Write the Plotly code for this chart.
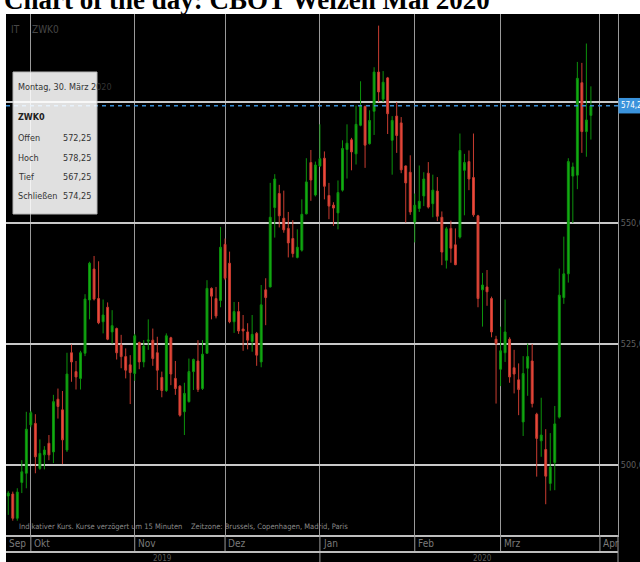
import plotly.graph_objects as go
import pandas as pd

# ---------------- data ----------------
title_text = "Chart of the day: CBOT Weizen Mai 2020"
symbol = "ZWK0"
exchange = "IT"
holidays = ["2019-11-28", "2019-12-25", "2020-01-01", "2020-01-20", "2020-02-17"]
month_names = {9: "Sep", 10: "Okt", 11: "Nov", 12: "Dez", 1: "Jan", 2: "Feb", 3: "Mrz", 4: "Apr"}

open_ = [493.6, 494.0, 489.0, 496.4, 498.3, 508.3, 508.6, 499.3, 502.1, 504.5,
         502.7, 513.6, 511.4, 503.1, 523.2, 519.3, 517.9, 523.1, 534.1, 540.5,
         534.4, 529.6, 532.6, 527.5, 528.2, 524.8, 522.4, 520.7, 518.9, 525.3,
         521.3, 525.6, 525.8, 523.2, 518.1, 515.4, 526.3, 517.9, 516.3, 511.0,
         513.1, 519.3, 521.5, 515.8, 523.1, 536.5, 534.4, 534.0, 545.6, 541.7,
         529.6, 531.7, 528.1, 527.5, 525.5, 527.2, 521.3, 536.2, 536.8, 553.2,
         556.1, 551.0, 548.9, 546.8, 542.9, 544.4, 551.9, 562.5, 555.8, 561.8,
         563.4, 555.7, 553.7, 552.1, 556.8, 565.2, 567.2, 564.3, 570.2, 574.1,
         566.4, 573.1, 581.2, 575.6, 580.0, 567.1, 572.1, 570.7, 561.8, 560.5,
         550.2, 553.0, 555.6, 560.3, 554.0, 556.6, 551.2, 542.3, 548.9, 545.5,
         547.1, 560.9, 562.7, 559.4, 551.5, 536.2, 536.8, 534.4, 526.0, 519.8,
         523.2, 526.0, 520.1, 517.6, 508.9, 520.0, 521.5, 510.5, 505.0, 503.2,
         496.2, 500.5, 509.9, 534.6, 539.5, 559.7, 559.9, 579.0, 568.9, 572.25]
high = [494.6, 494.5, 495.2, 501.0, 511.0, 511.2, 510.5, 505.3, 503.9, 506.2,
        514.5, 515.8, 515.3, 523.2, 524.9, 521.5, 523.6, 535.3, 542.0, 543.2,
        542.1, 534.2, 533.6, 532.0, 528.4, 526.9, 524.1, 522.7, 527.1, 525.5,
        525.8, 530.1, 528.2, 526.5, 519.3, 527.2, 526.5, 521.5, 516.5, 517.0,
        522.0, 522.0, 525.8, 525.8, 538.2, 536.7, 536.8, 549.2, 546.8, 544.1,
        533.7, 533.7, 531.0, 529.3, 531.0, 527.5, 537.2, 538.6, 558.3, 560.1,
        557.9, 556.7, 552.3, 550.6, 548.7, 554.9, 563.4, 565.1, 562.7, 570.4,
        564.8, 558.3, 554.3, 558.8, 567.1, 570.4, 567.6, 574.3, 579.3, 574.3,
        573.3, 582.2, 590.8, 581.4, 580.2, 572.1, 575.0, 571.9, 561.9, 564.0,
        556.1, 561.9, 560.5, 562.6, 560.0, 559.5, 552.4, 549.2, 550.5, 548.9,
        568.5, 564.3, 565.0, 568.5, 551.7, 539.7, 540.3, 534.8, 526.7, 528.6,
        534.2, 526.4, 523.8, 521.0, 522.5, 525.1, 525.0, 510.8, 513.9, 507.4,
        506.6, 512.2, 540.6, 547.2, 563.4, 562.5, 583.3, 583.1, 587.1, 578.25]
low = [489.7, 488.5, 488.5, 494.2, 495.2, 507.8, 498.3, 499.0, 499.1, 501.0,
       500.4, 509.6, 500.2, 502.7, 517.2, 515.6, 515.6, 522.5, 530.1, 534.0,
       529.1, 527.2, 525.8, 525.1, 521.8, 520.0, 517.9, 512.6, 517.4, 519.8,
       520.2, 523.8, 520.5, 515.5, 514.0, 515.1, 516.5, 514.5, 510.0, 506.2,
       512.9, 515.5, 515.1, 515.5, 523.0, 530.1, 530.3, 532.6, 538.2, 529.3,
       527.3, 527.1, 523.6, 523.9, 523.4, 520.5, 520.2, 528.9, 536.7, 547.0,
       549.1, 548.0, 542.9, 542.9, 542.7, 544.1, 551.8, 554.6, 555.5, 561.6,
       554.9, 550.8, 549.4, 548.7, 556.5, 559.2, 560.9, 562.1, 570.0, 561.4,
       566.2, 568.2, 575.0, 575.0, 568.4, 560.0, 564.5, 560.3, 550.1, 551.7,
       546.0, 552.3, 553.5, 553.0, 551.2, 550.4, 541.3, 540.6, 541.8, 541.3,
       546.8, 551.6, 556.8, 551.3, 532.6, 528.6, 532.9, 526.4, 512.7, 516.3,
       521.3, 517.0, 514.8, 510.3, 506.0, 514.3, 511.9, 497.6, 501.7, 491.9,
       494.7, 494.8, 509.6, 533.3, 537.7, 550.0, 557.0, 564.5, 563.7, 567.25]
close = [494.2, 489.0, 494.4, 498.6, 507.4, 510.8, 501.7, 502.4, 503.1, 502.1,
         513.1, 512.1, 505.2, 518.8, 521.3, 518.2, 523.2, 534.3, 541.7, 534.3,
         529.4, 531.0, 526.0, 528.8, 523.2, 522.4, 519.6, 519.1, 526.7, 521.3,
         524.6, 525.8, 522.0, 519.6, 515.4, 526.7, 518.8, 515.8, 510.3, 514.8,
         519.3, 521.8, 515.6, 522.9, 536.5, 534.9, 530.8, 545.0, 538.6, 529.6,
         531.7, 527.7, 527.7, 525.8, 527.0, 522.7, 533.1, 534.6, 551.2, 559.1,
         551.5, 548.6, 545.9, 543.7, 545.0, 551.8, 558.5, 558.9, 562.0, 563.3,
         557.6, 553.5, 553.1, 556.3, 565.4, 566.5, 564.7, 570.4, 574.2, 566.1,
         571.2, 581.2, 577.1, 579.1, 572.6, 571.2, 568.1, 561.0, 558.3, 552.3,
         553.7, 554.5, 559.1, 553.3, 556.8, 551.4, 544.0, 548.8, 544.8, 541.4,
         565.0, 562.5, 559.1, 551.7, 534.4, 537.2, 535.8, 527.5, 525.1, 523.6,
         527.5, 518.2, 518.8, 515.6, 518.9, 522.4, 512.7, 505.5, 506.2, 497.7,
         499.6, 508.5, 535.1, 539.5, 562.7, 561.6, 579.9, 568.9, 571.3, 574.25]

price_ticks = [500, 525, 550, 575]
price_labels = ["500,00", "525,00", "550,00", ""]
last_label = "574,25"
info_date = "Montag, 30. März 2020"
info_rows = ["Offen", "Hoch", "Tief", "Schließen"]
info_vals = ["572,25", "578,25", "567,25", "574,25"]
footer = "Indikativer Kurs. Kurse verzögert um 15 Minuten    Zeitzone: Brussels, Copenhagen, Madrid, Paris"

# ---------------- axis dates ----------------
all_days = [d for d in pd.bdate_range("2019-09-24", "2020-04-07") if d.strftime("%Y-%m-%d") not in holidays]
n = len(open_)
idx = list(range(n))
month_idx = [i for i in range(1, len(all_days)) if all_days[i].month != all_days[i - 1].month]
year_idx = [i for i in month_idx if all_days[i].year != all_days[i - 1].year][0]

XMIN, XMAX = -0.5, 135.0
YMIN, YMAX = 485.54, 593.2

W, H = 640, 562
L, R, T, B = 6, 22, 14, 27
PW, PH = W - L - R, H - T - B


def px2x(px):
    return (px - L) / PW


def py2y(py):
    return (H - B - py) / PH


NARROW = "Liberation Sans Narrow, DejaVu Sans Condensed, Roboto Condensed, Arial Narrow, sans-serif"

fig = go.Figure()
fig.add_trace(go.Candlestick(
    x=idx, open=open_, high=high, low=low, close=close,
    increasing=dict(line=dict(color="#0c920c", width=1), fillcolor="#16b016"),
    decreasing=dict(line=dict(color="#c83c30", width=1), fillcolor="#f04c3e"),
    whiskerwidth=0, hoverinfo="skip", showlegend=False,
))

shapes = []
annotations = []

# white margins (left strip and top strip)
shapes.append(dict(type="rect", xref="paper", yref="paper", x0=px2x(-2), x1=0, y0=py2y(H + 2), y1=py2y(-2),
                   fillcolor="white", line=dict(width=0), layer="above"))
shapes.append(dict(type="rect", xref="paper", yref="paper", x0=px2x(-2), x1=px2x(W + 2), y0=1, y1=py2y(-2),
                   fillcolor="white", line=dict(width=0), layer="above"))

# last price dashed line
shapes.append(dict(type="line", xref="paper", yref="y", x0=0, x1=1, y0=close[-1], y1=close[-1],
                   line=dict(color="#3a8fd6", width=1.5, dash="4px,4px"), layer="above"))

# info box
shapes.append(dict(type="rect", xref="paper", yref="paper", x0=px2x(13), x1=px2x(97), y0=py2y(214), y1=py2y(72),
                   fillcolor="white", opacity=0.88, line=dict(color="#d0d0d0", width=1), layer="above"))
annotations.append(dict(xref="paper", yref="paper", x=px2x(16), y=py2y(87), text=info_date, showarrow=False,
                        xanchor="left", yanchor="middle", font=dict(family=NARROW, size=9, color="#333")))
annotations.append(dict(xref="paper", yref="paper", x=px2x(16), y=py2y(117), text="<b>" + symbol + "</b>", showarrow=False,
                        xanchor="left", yanchor="middle", font=dict(family=NARROW, size=9, color="#222")))
for k, (lab, val) in enumerate(zip(info_rows, info_vals)):
    yy = py2y(138 + k * 19.5)
    annotations.append(dict(xref="paper", yref="paper", x=px2x(16), y=yy, text=lab, showarrow=False,
                            xanchor="left", yanchor="middle", font=dict(family=NARROW, size=9, color="#333")))
    annotations.append(dict(xref="paper", yref="paper", x=px2x(93), y=yy, text=val, showarrow=False,
                            xanchor="right", yanchor="middle", font=dict(family=NARROW, size=9, color="#333")))

# blue last price label
shapes.append(dict(type="rect", xref="paper", yref="y", x0=px2x(618.5), x1=px2x(W + 2), y0=close[-1] - 1.6, y1=close[-1] + 1.6,
                   fillcolor="#3a93dc", line=dict(width=0), layer="above"))
annotations.append(dict(xref="paper", yref="y", x=px2x(618.5), y=close[-1], text=last_label, showarrow=False,
                        xanchor="left", yanchor="middle", font=dict(family=NARROW, size=8, color="white")))

# bottom area: label row separators
for i in month_idx:
    y_end = py2y(H + 2) if i == year_idx else py2y(552)
    shapes.append(dict(type="line", xref="x", yref="paper", x0=i, x1=i, y0=0, y1=y_end,
                       line=dict(color="#9a9a9a", width=1), layer="above"))
shapes.append(dict(type="line", xref="paper", yref="paper", x0=0, x1=1, y0=py2y(552), y1=py2y(552),
                   line=dict(color="#bdbdbd", width=2), layer="above"))
shapes.append(dict(type="line", xref="paper", yref="paper", x0=1, x1=1, y0=py2y(H + 2), y1=0,
                   line=dict(color="#9a9a9a", width=1), layer="above"))

# month labels
annotations.append(dict(xref="x", yref="paper", x=XMIN, y=py2y(543.5), text=month_names[all_days[0].month],
                        showarrow=False, xanchor="left", yanchor="middle", xshift=1,
                        font=dict(family=NARROW, size=10, color="#7a7a7a")))
for i in month_idx:
    annotations.append(dict(xref="x", yref="paper", x=i, y=py2y(543.5), text=month_names[all_days[i].month],
                            showarrow=False, xanchor="left", yanchor="middle", xshift=1,
                            font=dict(family=NARROW, size=10, color="#7a7a7a")))
# year labels
annotations.append(dict(xref="x", yref="paper", x=(XMIN + year_idx) / 2, y=py2y(558), text=str(all_days[0].year),
                        showarrow=False, xanchor="center", yanchor="middle",
                        font=dict(family=NARROW, size=8, color="#5a5a5a")))
annotations.append(dict(xref="x", yref="paper", x=(year_idx + XMAX) / 2 + 3, y=py2y(558), text=str(all_days[year_idx].year),
                        showarrow=False, xanchor="center", yanchor="middle",
                        font=dict(family=NARROW, size=8, color="#5a5a5a")))

# footer
annotations.append(dict(xref="paper", yref="paper", x=px2x(17), y=py2y(526), text=footer, showarrow=False,
                        xanchor="left", yanchor="middle", font=dict(family=NARROW, size=7.5, color="#8a8a8a")))
# top-left symbol
annotations.append(dict(xref="paper", yref="paper", x=px2x(9), y=py2y(29), text=exchange, showarrow=False,
                        xanchor="left", yanchor="middle", font=dict(family=NARROW, size=10, color="#474747")))
annotations.append(dict(xref="paper", yref="paper", x=px2x(30), y=py2y(29), text=symbol, showarrow=False,
                        xanchor="left", yanchor="middle", font=dict(family=NARROW, size=10, color="#474747")))

# title (partly cut off at the top)
annotations.append(dict(xref="paper", yref="paper", x=px2x(2), y=py2y(17), text="<b>" + title_text + "</b>",
                        showarrow=False, xanchor="left", yanchor="bottom",
                        font=dict(family="Liberation Serif, Times New Roman, serif", size=27, color="black")))

fig.update_layout(
    width=W, height=H,
    margin=dict(l=L, r=R, t=T, b=B, pad=0, autoexpand=False),
    paper_bgcolor="black", plot_bgcolor="black",
    boxgap=0.4,
    shapes=shapes, annotations=annotations,
    showlegend=False,
    xaxis=dict(range=[XMIN, XMAX], tickvals=month_idx, showticklabels=False, ticks="",
               showgrid=True, gridcolor="#9a9a9a", gridwidth=1, zeroline=False, automargin=False,
               showline=True, linecolor="#bdbdbd", linewidth=2, rangeslider=dict(visible=False),
               fixedrange=True),
    yaxis=dict(range=[YMIN, YMAX], side="right", tickvals=price_ticks, ticktext=price_labels, ticks="",
               showgrid=True, gridcolor="#c8c8c8", gridwidth=2, zeroline=False, automargin=False,
               showline=True, linecolor="#9a9a9a", linewidth=1,
               tickfont=dict(family=NARROW, size=9, color="#5e5e5e"), fixedrange=True),
)

post = (
    "document.body.style.margin='0';document.body.style.padding='0';"
    "document.body.style.overflow='hidden';"
    "document.body.style.background='black';"
    "var gd=document.getElementById('{plot_id}');"
    "gd.style.width='640px';gd.style.height='562px';"
    "Plotly.relayout(gd,{width:640,height:562});"
)
fig.write_html("out.html", post_script=post, config={"displayModeBar": False, "responsive": False})
